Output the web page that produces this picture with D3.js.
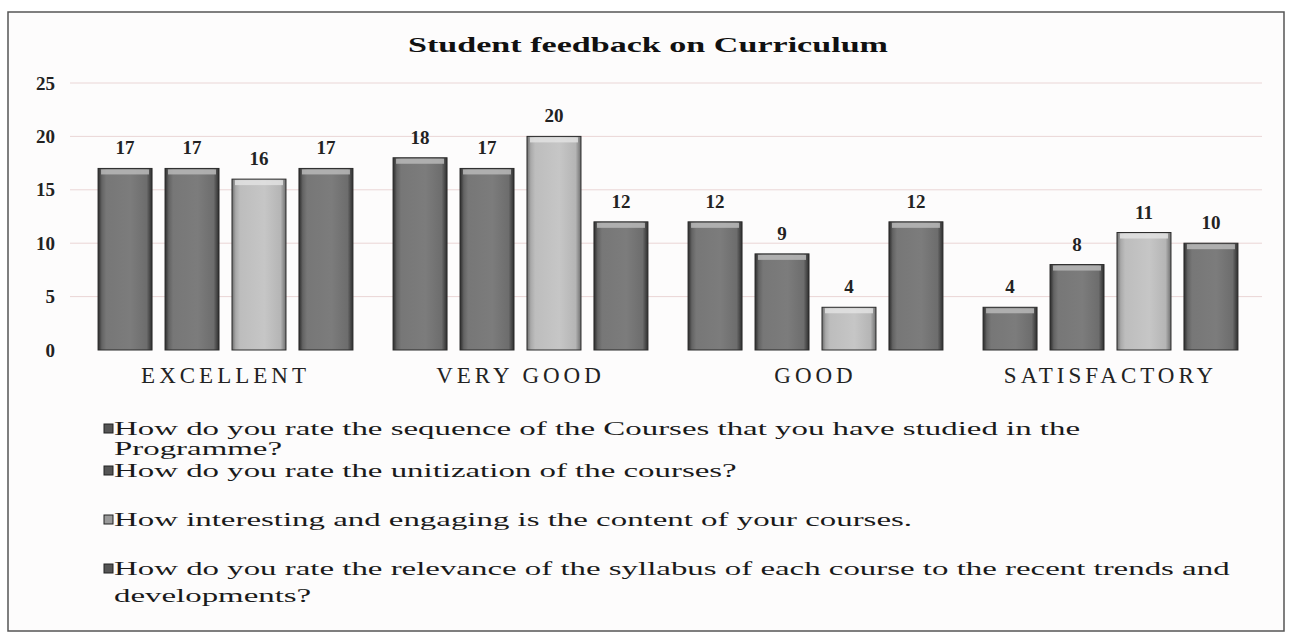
<!DOCTYPE html>
<html><head><meta charset="utf-8">
<script src="https://cdn.jsdelivr.net/npm/d3@7"></script>
<style>body{margin:0;background:#fff;}svg{display:block;}</style>
</head><body>
<svg id="chart" width="1289" height="641"></svg>
<script>
const title = "Student feedback on Curriculum";
const categories = ["EXCELLENT", "VERY GOOD", "GOOD", "SATISFACTORY"];
const seriesNames = [
  "How do you rate the sequence of the Courses that you have studied in the Programme?",
  "How do you rate the unitization of the courses?",
  "How interesting and engaging is the content of your courses.",
  "How do you rate the relevance of the syllabus of each course to the recent trends and developments?"
];
const sequenceValues = [17, 18, 12, 4];
const unitizationValues = [17, 17, 9, 8];
const interestingValues = [16, 20, 4, 11];
const relevanceValues = [17, 12, 12, 10];
const yTicks = [0, 5, 10, 15, 20, 25];
const legendLines = [
  ["How do you rate the sequence of the Courses that you have studied in the", "Programme?"],
  ["How do you rate the unitization of the courses?"],
  ["How interesting and engaging is the content of your courses."],
  ["How do you rate the relevance of the syllabus of each course to the recent trends and", "developments?"]
];

const seriesValues = [sequenceValues, unitizationValues, interestingValues, relevanceValues];
const seriesTone = ["dark", "dark", "light", "dark"];

const svg = d3.select("#chart");
const font = "'Liberation Serif','Times New Roman',serif";

// gradients
const defs = svg.append("defs");
function grad(id, stops) {
  const g = defs.append("linearGradient").attr("id", id).attr("x1", "0%").attr("x2", "100%").attr("y1", "0%").attr("y2", "0%");
  stops.forEach(s => g.append("stop").attr("offset", s[0]).attr("stop-color", s[1]));
}
grad("g-dark", [["0%", "#2b2b2b"], ["7%", "#636363"], ["15%", "#777"], ["60%", "#7c7c7c"], ["90%", "#6d6d6d"], ["100%", "#2e2e2e"]]);
grad("g-light", [["0%", "#6e6e6e"], ["7%", "#a9a9a9"], ["15%", "#bdbdbd"], ["60%", "#c6c6c6"], ["90%", "#b5b5b5"], ["100%", "#6f6f6f"]]);

// frame
svg.append("rect").attr("x", 8).attr("y", 12).attr("width", 1276).attr("height", 619)
  .attr("fill", "#fdfcfc").attr("stroke", "#555").attr("stroke-width", 1.5);

// title
svg.append("text").attr("x", 648).attr("y", 52).attr("text-anchor", "middle")
  .attr("font-family", font).attr("font-weight", "bold").attr("font-size", 21)
  .attr("textLength", 480).attr("lengthAdjust", "spacingAndGlyphs")
  .attr("fill", "#111").text(title);

const y = d3.scaleLinear().domain([0, 25]).range([350, 83]);
const x0 = d3.scaleBand().domain(categories).range([78, 1258]).paddingInner(0.136).paddingOuter(0.068);
const x1 = d3.scaleBand().domain(d3.range(4)).range([0, x0.bandwidth()]).paddingInner(0.194);

// gridlines
svg.append("g").selectAll("line").data(yTicks.filter(t => t > 0)).join("line")
  .attr("x1", 70).attr("x2", 1262).attr("y1", d => y(d)).attr("y2", d => y(d))
  .attr("stroke", "#ead6d6").attr("stroke-width", 1);

// y axis labels
const yAxis = d3.axisLeft(y).tickValues(yTicks).tickSize(0).tickPadding(0);
const ya = svg.append("g").attr("transform", "translate(55,0)").call(yAxis);
ya.select(".domain").remove();
ya.selectAll("text").attr("font-family", font).attr("font-size", 19).attr("font-weight", "bold").attr("fill", "#222");

// bars
const groups = svg.append("g").selectAll("g").data(categories).join("g")
  .attr("transform", d => `translate(${x0(d)},0)`);
groups.each(function (cat, ci) {
  const g = d3.select(this);
  seriesValues.forEach((vals, si) => {
    const v = vals[ci];
    const bx = x1(si), bw = x1.bandwidth();
    g.append("rect").attr("x", bx).attr("y", y(v)).attr("width", bw).attr("height", y(0) - y(v))
      .attr("fill", `url(#g-${seriesTone[si]})`).attr("stroke", "#2a2a2a").attr("stroke-width", 1);
    g.append("rect").attr("x", bx + 3).attr("y", y(v) + 1).attr("width", bw - 6).attr("height", 5)
      .attr("fill", seriesTone[si] === "dark" ? "#b8b8b8" : "#e2e2e2").attr("opacity", 0.85);
    g.append("text").attr("x", bx + bw / 2).attr("y", y(v) - 14).attr("text-anchor", "middle")
      .attr("font-family", font).attr("font-size", 19).attr("font-weight", "bold").attr("fill", "#222")
      .text(v);
  });
});

// category axis
const xAxis = d3.axisBottom(x0).tickSize(0).tickPadding(0);
const xa = svg.append("g").attr("transform", "translate(0,383)").call(xAxis);
xa.select(".domain").remove();
xa.selectAll("text").attr("font-family", font).attr("font-size", 23).attr("fill", "#222")
  .attr("dy", 0).attr("letter-spacing", 4);

// legend
const legendBase = [435, 477, 526, 575];
const legendStep = [20, 0, 0, 27];
const leg = svg.append("g");
legendLines.forEach((lines, i) => {
  leg.append("rect").attr("x", 104).attr("y", legendBase[i] - 11).attr("width", 9).attr("height", 9)
    .attr("fill", seriesTone[i] === "dark" ? "#555" : "#9a9a9a").attr("stroke", "#222").attr("stroke-width", 1);
  lines.forEach((ln, j) => {
    leg.append("text").attr("x", 114).attr("y", legendBase[i] + j * legendStep[i])
      .attr("font-family", font).attr("font-size", 19).attr("fill", "#1a1a1a").text(ln);
  });
});
// stretch legend glyphs horizontally so the first line spans like the reference
const firstW = leg.select("text").node().getComputedTextLength();
const stretch = 966 / firstW;
leg.selectAll("text").each(function () {
  const w = this.getComputedTextLength();
  d3.select(this).attr("textLength", w * stretch).attr("lengthAdjust", "spacingAndGlyphs");
});
</script>
</body></html>
